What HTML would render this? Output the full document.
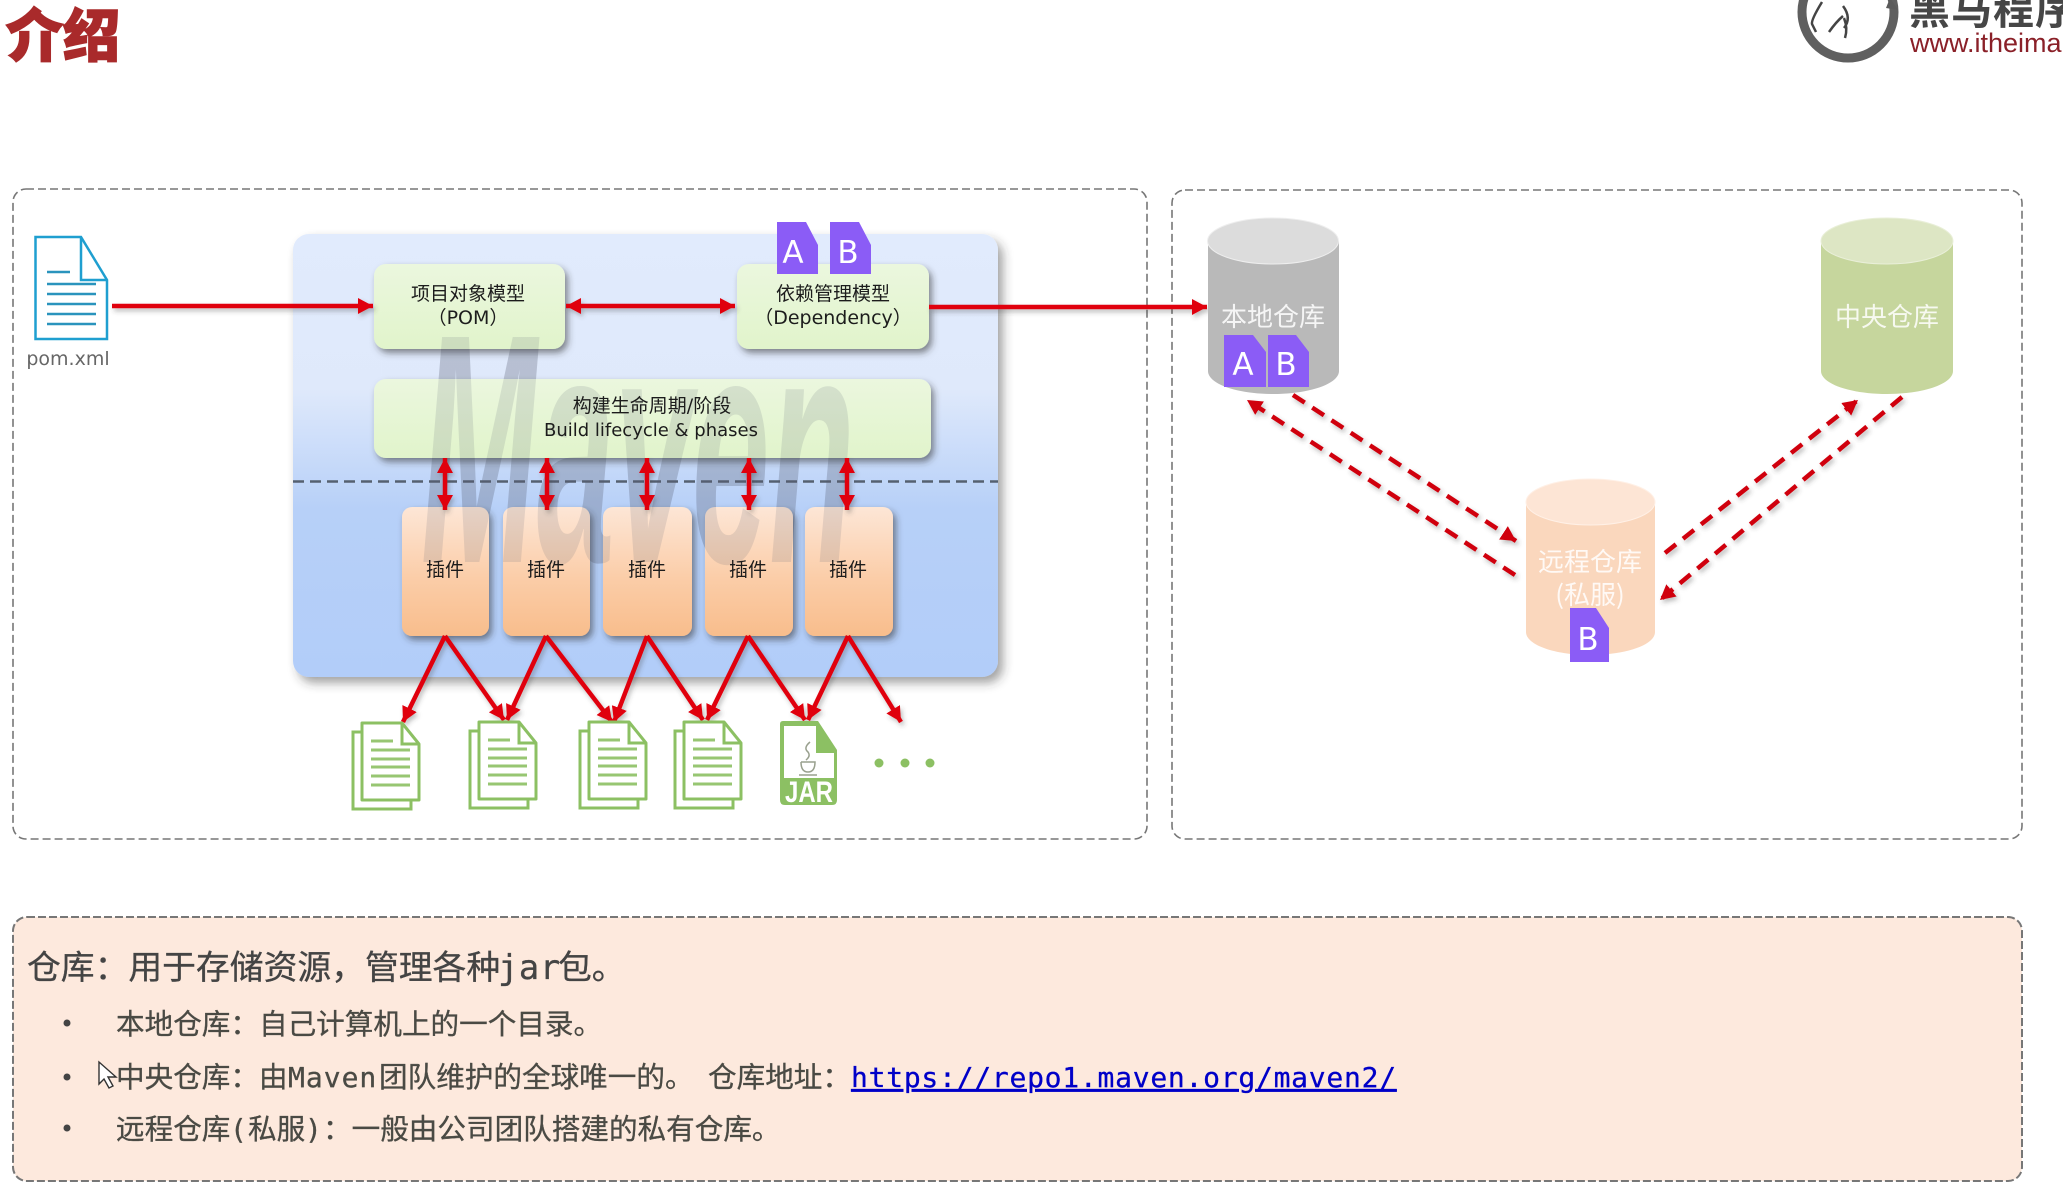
<!DOCTYPE html>
<html lang="zh">
<head>
<meta charset="utf-8">
<title>介绍</title>
<style>
html,body{margin:0;padding:0;background:#fff;width:2063px;height:1192px;overflow:hidden}
svg{display:block;position:absolute;left:0;top:0}
text{font-family:"DejaVu Sans","Noto Sans CJK SC",sans-serif}
.lbl{font-size:19px;fill:#1c1c1c;text-anchor:middle;font-family:"DejaVu Sans","Noto Sans CJK SC",sans-serif}
.cyl{font-size:26px;fill:#fff;fill-opacity:.85;text-anchor:middle;font-family:"Noto Sans CJK SC",sans-serif}
.bdg{font-size:31px;fill:#fff;text-anchor:middle;font-family:"DejaVu Sans",sans-serif}
.b{font-family:"Liberation Mono","Noto Sans CJK SC",monospace;fill:#4a4a44;font-size:28.6px;stroke:#4a4a44;stroke-width:.3px}
.m{font-family:"DejaVu Sans Mono","Liberation Mono",monospace;letter-spacing:1px}
</style>
</head>
<body>
<svg width="2063" height="1192" viewBox="0 0 2063 1192" xmlns="http://www.w3.org/2000/svg">
<defs>
  <linearGradient id="gPanel" x1="0" y1="0" x2="0" y2="1">
    <stop offset="0" stop-color="#e1ebfd"/><stop offset=".35" stop-color="#dfe9fb"/><stop offset=".62" stop-color="#b7d0f8"/><stop offset="1" stop-color="#b2cdf9"/>
  </linearGradient>
  <linearGradient id="gGreen" x1="0" y1="0" x2="0" y2="1">
    <stop offset="0" stop-color="#ebf7de"/><stop offset="1" stop-color="#e1f4cb"/>
  </linearGradient>
  <linearGradient id="gPlug" x1="0" y1="0" x2="0" y2="1">
    <stop offset="0" stop-color="#fde6d6"/><stop offset=".55" stop-color="#fbcda8"/><stop offset="1" stop-color="#f8bd8c"/>
  </linearGradient>
  <filter id="sh" x="-20%" y="-20%" width="140%" height="140%"><feDropShadow dx="3" dy="4" stdDeviation="3.5" flood-color="#333" flood-opacity=".55"/></filter>
  <filter id="shP" x="-5%" y="-5%" width="110%" height="110%"><feDropShadow dx="5" dy="6" stdDeviation="5" flood-color="#333" flood-opacity=".45"/></filter>
  <filter id="shA" x="-10%" y="-10%" width="120%" height="120%"><feDropShadow dx="2" dy="3" stdDeviation="2.5" flood-color="#444" flood-opacity=".35"/></filter>
  <marker id="ah" markerUnits="userSpaceOnUse" markerWidth="18" markerHeight="16" refX="15" refY="8" orient="auto-start-reverse"><path d="M0 0L15 8L0 16Z" fill="#e00010"/></marker>
  <marker id="ad" markerUnits="userSpaceOnUse" markerWidth="18" markerHeight="16" refX="15" refY="8" orient="auto"><path d="M0 0L15 8L0 16Z" fill="#d0000e"/></marker>
  <g id="doc">
    <path d="M0 9H-9V86H49V77" fill="#fff" stroke="#8cc063" stroke-width="3"/>
    <path d="M0 0H40L57 21V77H0Z" fill="#fff" stroke="#8cc063" stroke-width="3" stroke-linejoin="round"/>
    <path d="M40 0V21H57" fill="none" stroke="#8cc063" stroke-width="3"/>
    <path d="M9 18H31M9 27H48M9 36H48M9 44H48M9 53H48M9 62H48" stroke="#8cc063" stroke-width="3" fill="none" opacity=".9"/>
  </g>
</defs>

<!-- title -->
<text x="6" y="56" font-size="57" font-weight="900" fill="#a92a2b" stroke="#a92a2b" stroke-width="1.6" style="font-family:'Noto Sans CJK SC',sans-serif">介绍</text>

<!-- logo -->
<circle cx="1848" cy="12" r="46" fill="#fff" stroke="#5f5f5f" stroke-width="9"/>
<path d="M1890 -2L1898 10L1886 8Z" fill="#5a5a5a"/>
<path d="M1822 2Q1811 20 1812 24L1816 32M1844 28Q1852 18 1843 6M1843 16Q1836 22 1829 32M1844 18Q1848 28 1845 38" fill="none" stroke="#444" stroke-width="2.5"/>
<text x="1909" y="24" font-size="41" font-weight="700" fill="#464646" letter-spacing="1" style="font-family:'Noto Sans CJK SC',sans-serif">黑马程序员</text>
<text x="1910" y="52" font-size="27" fill="#8a2028" style="font-family:'Liberation Sans',sans-serif">www.itheima.com</text>

<!-- containers -->
<rect x="13" y="189" width="1134" height="650" rx="13" fill="none" stroke="#777" stroke-width="1.6" stroke-dasharray="8 4"/>
<rect x="1172" y="190" width="850" height="649" rx="13" fill="none" stroke="#777" stroke-width="1.6" stroke-dasharray="8 4"/>
<rect x="13" y="917" width="2009" height="264" rx="14" fill="#fde9dd" stroke="#777" stroke-width="2" stroke-dasharray="8 3"/>

<!-- pom icon -->
<g fill="none" stroke="#1f9fd0">
  <path d="M35.500 237H81L107 280V339H35.500Z" fill="#fff" stroke-width="2.500"/>
  <path d="M81 237V280H107" stroke-width="2.500"/>
  <path d="M47 272H70M47 284H96M47 294H96M47 304H96M47 314H96M47 324H96" stroke="#2a94bd" stroke-width="2.500"/>
</g>
<text x="68" y="365" font-size="19" fill="#666" text-anchor="middle">pom.xml</text>

<!-- panel -->
<rect x="293" y="234" width="705" height="443" rx="16" fill="url(#gPanel)" filter="url(#shP)"/>
<line x1="293" y1="481.500" x2="998" y2="481.500" stroke="#556070" stroke-width="2.400" stroke-dasharray="11 6"/>

<!-- Maven watermark, layer under boxes -->
<text transform="translate(421 562) scale(.426 1)" font-size="327" font-weight="700" font-style="italic" fill="#566070" fill-opacity=".17" style="font-family:'Liberation Sans',sans-serif">Maven</text>

<!-- green boxes -->
<rect x="374" y="264" width="191" height="85" rx="12" fill="url(#gGreen)" filter="url(#sh)"/>
<rect x="737" y="264" width="192" height="85" rx="12" fill="url(#gGreen)" filter="url(#sh)"/>
<rect x="374" y="379" width="557" height="79" rx="12" fill="url(#gGreen)" filter="url(#sh)"/>

<!-- plugins -->
<g filter="url(#sh)">
  <rect x="402" y="507" width="87" height="129" rx="10" fill="url(#gPlug)"/>
  <rect x="503" y="507" width="87" height="129" rx="10" fill="url(#gPlug)"/>
  <rect x="603" y="507" width="89" height="129" rx="10" fill="url(#gPlug)"/>
  <rect x="705" y="507" width="88" height="129" rx="10" fill="url(#gPlug)"/>
  <rect x="805" y="507" width="88" height="129" rx="10" fill="url(#gPlug)"/>
</g>

<!-- Maven watermark, layer over boxes -->
<text transform="translate(421 562) scale(.426 1)" font-size="327" font-weight="700" font-style="italic" fill="#566070" fill-opacity=".15" style="font-family:'Liberation Sans',sans-serif">Maven</text>

<!-- labels in boxes -->
<text class="lbl" x="468" y="300">项目对象模型</text>
<text class="lbl" x="468" y="324">（POM）</text>
<text class="lbl" x="833" y="300">依赖管理模型</text>
<text class="lbl" x="833" y="324">（Dependency）</text>
<text class="lbl" x="652" y="412">构建生命周期/阶段</text>
<text class="lbl" x="651" y="436" style="font-size:18px">Build lifecycle &amp; phases</text>
<text class="lbl" x="445" y="576">插件</text><text class="lbl" x="546" y="576">插件</text><text class="lbl" x="647" y="576">插件</text><text class="lbl" x="748" y="576">插件</text><text class="lbl" x="848" y="576">插件</text>

<!-- solid arrows -->
<g stroke="#e00010" stroke-width="4.500" fill="none" filter="url(#shA)">
  <line x1="112" y1="306" x2="373" y2="306" marker-end="url(#ah)"/>
  <line x1="566" y1="306" x2="735" y2="306" marker-start="url(#ah)" marker-end="url(#ah)"/>
  <line x1="929" y1="307" x2="1207" y2="307" marker-end="url(#ah)"/>
  <line x1="445" y1="458" x2="445" y2="510" marker-start="url(#ah)" marker-end="url(#ah)"/>
  <line x1="547" y1="458" x2="547" y2="510" marker-start="url(#ah)" marker-end="url(#ah)"/>
  <line x1="647" y1="458" x2="647" y2="510" marker-start="url(#ah)" marker-end="url(#ah)"/>
  <line x1="749" y1="458" x2="749" y2="510" marker-start="url(#ah)" marker-end="url(#ah)"/>
  <line x1="847" y1="458" x2="847" y2="510" marker-start="url(#ah)" marker-end="url(#ah)"/>
  <path d="M445 636L403 722" marker-end="url(#ah)"/><path d="M445 636L504 720" marker-end="url(#ah)"/>
  <path d="M546 636L507 720" marker-end="url(#ah)"/><path d="M546 636L612 722" marker-end="url(#ah)"/>
  <path d="M647 636L614 722" marker-end="url(#ah)"/><path d="M647 636L703 720" marker-end="url(#ah)"/>
  <path d="M748 636L707 720" marker-end="url(#ah)"/><path d="M748 636L805 720" marker-end="url(#ah)"/>
  <path d="M848 636L808 720" marker-end="url(#ah)"/><path d="M848 636L901 722" marker-end="url(#ah)"/>
</g>

<!-- output docs -->
<use href="#doc" x="362" y="723"/>
<use href="#doc" x="479" y="722"/>
<use href="#doc" x="589" y="722"/>
<use href="#doc" x="684" y="722"/>
<path d="M783 721H818L837 750V800Q837 805 832 805H785Q780 805 780 800V724Q780 721 783 721Z" fill="#8cc063"/>
<path d="M784 726H816V753H834V778H784Z" fill="#fff"/>
<path d="M810 742Q803 748 808 752Q811 756 806 760M801 762H815Q815 772 808 772Q801 772 801 762M799 775H817" fill="none" stroke="#99a08e" stroke-width="1.500"/>
<text transform="translate(809 802) scale(.8 1)" font-size="30" font-weight="700" fill="#fff" text-anchor="middle" style="font-family:'Liberation Sans',sans-serif">JAR</text>
<circle cx="879" cy="763" r="4.500" fill="#8cc063"/><circle cx="905" cy="763" r="4.500" fill="#8cc063"/><circle cx="930" cy="763" r="4.500" fill="#8cc063"/>

<!-- badges on panel -->
<path d="M777 222H806L818 245V274H777Z" fill="#8b5cf6"/>
<path d="M830 222H859L871 245V274H830Z" fill="#8b5cf6"/>
<text class="bdg" x="793" y="263">A</text><text class="bdg" x="848" y="263">B</text>

<!-- cylinders -->
<path d="M1208 241V371C1208 384 1237 394 1273 394C1309 394 1339 384 1339 371V241Z" fill="#b9b9b9"/>
<ellipse cx="1273" cy="241" rx="65.500" ry="23" fill="#dcdcdc" stroke="#eee" stroke-width="1"/>
<text class="cyl" x="1273" y="326">本地仓库</text>
<path d="M1224 335H1253L1266 352V387H1224Z" fill="#8b5cf6"/>
<path d="M1268 335H1296L1309 352V387H1268Z" fill="#8b5cf6"/>
<text class="bdg" x="1243" y="375">A</text><text class="bdg" x="1286" y="375">B</text>

<path d="M1821 241V371C1821 384 1851 394 1887 394C1923 394 1953 384 1953 371V241Z" fill="#c6d69d"/>
<ellipse cx="1887" cy="241" rx="66" ry="23" fill="#dde6c4" stroke="#e9efd8" stroke-width="1"/>
<text class="cyl" x="1887" y="326">中央仓库</text>

<path d="M1526 502V632C1526 645 1555 655 1590 655C1626 655 1655 645 1655 632V502Z" fill="#fad7bd"/>
<ellipse cx="1590.500" cy="502" rx="64.500" ry="23" fill="#fde5d5" stroke="#fff0e6" stroke-width="1"/>
<text class="cyl" x="1590" y="571">远程仓库</text>
<text class="cyl" x="1590" y="604">(私服)</text>
<path d="M1570 608H1596L1609 628V662H1570Z" fill="#8b5cf6"/>
<text class="bdg" x="1588" y="650">B</text>

<!-- dashed arrows -->
<g stroke="#d0000e" stroke-width="4.500" fill="none" stroke-dasharray="14 9" filter="url(#shA)">
  <line x1="1293" y1="395" x2="1516" y2="541" marker-end="url(#ad)"/>
  <line x1="1515" y1="575" x2="1247" y2="400" marker-end="url(#ad)"/>
  <line x1="1665" y1="553" x2="1858" y2="400" marker-end="url(#ad)"/>
  <line x1="1902" y1="397" x2="1660" y2="600" marker-end="url(#ad)"/>
</g>

<!-- bottom text -->
<text class="b" x="27" y="979" style="font-size:33.800px;fill:#444;stroke:#444">仓库：用于存储资源，管理各种<tspan class="m" x="498" style="letter-spacing:.5px">jar</tspan><tspan x="558">包。</tspan></text>
<circle cx="67" cy="1023" r="3.500" fill="#444"/><circle cx="67" cy="1077" r="3.500" fill="#444"/><circle cx="67" cy="1128" r="3.500" fill="#444"/>
<text class="b" x="116" y="1034">本地仓库：自己计算机上的一个目录。</text>
<text class="b" x="116" y="1087">中央仓库：由<tspan class="m" x="288" style="font-size:28px">Maven</tspan><tspan x="379">团队维护的全球唯一的。</tspan><tspan x="708">仓库地址：</tspan></text>
<text class="b m" x="851" y="1087" style="fill:#0000c8;stroke:#0000c8;font-size:28px;letter-spacing:.75px;text-decoration:underline">https://repo1.maven.org/maven2/</text>
<text class="b" x="116" y="1139">远程仓库<tspan class="m" x="230" style="font-size:28px">(</tspan><tspan x="248">私服</tspan><tspan class="m" x="305" style="font-size:28px">)</tspan><tspan x="323">：一般由公司团队搭建的私有仓库。</tspan></text>

<!-- cursor -->
<path d="M99 1062V1084L104 1079L109 1088L113 1086L108 1077H116Z" fill="#fff" stroke="#333" stroke-width="1.400"/>
</svg>
</body>
</html>
